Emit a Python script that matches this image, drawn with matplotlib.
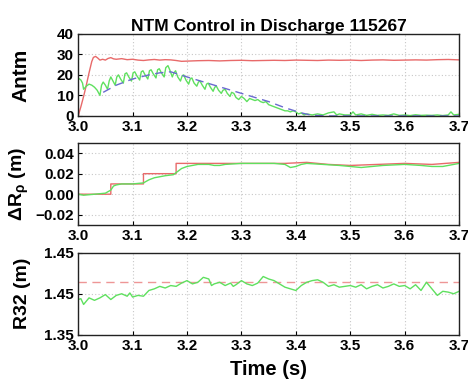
import numpy as np
import matplotlib
matplotlib.use('Agg')
import matplotlib.pyplot as plt

plt.rcParams['font.family'] = ['Liberation Sans', 'DejaVu Sans']
plt.rcParams['font.weight'] = 'bold'
plt.rcParams['axes.labelweight'] = 'bold'
plt.rcParams['axes.titleweight'] = 'bold'
plt.rcParams['mathtext.default'] = 'regular'

# --- panel 1 : Antm ---
t_red1 = [3.000, 3.005, 3.010, 3.015, 3.020, 3.025, 3.028, 3.032, 3.036, 3.040, 3.045, 3.050,
          3.055, 3.060, 3.065, 3.070, 3.080, 3.090, 3.100, 3.110, 3.120, 3.130, 3.140, 3.150,
          3.160, 3.170, 3.180, 3.190, 3.200, 3.220, 3.240, 3.260, 3.280, 3.300, 3.320, 3.340,
          3.360, 3.380, 3.400, 3.420, 3.440, 3.460, 3.480, 3.500, 3.520, 3.540, 3.560, 3.580,
          3.600, 3.620, 3.640, 3.660, 3.680, 3.700]
red1 = [0.0, 4.5, 9.5, 15.0, 21.0, 26.5, 28.5, 29.0, 28.2, 27.2, 27.6, 27.2,
        28.0, 28.4, 27.8, 27.6, 27.9, 27.4, 27.6, 27.2, 27.0, 27.3, 27.5, 27.2,
        27.4, 27.3, 27.0, 26.6, 26.7, 26.9, 27.0, 26.8, 27.0, 27.1, 26.9, 27.0,
        27.1, 27.0, 27.2, 27.1, 27.0, 27.2, 27.1, 27.2, 27.0, 27.2, 27.3, 27.1,
        27.2, 27.3, 27.2, 27.4, 27.5, 27.3]

t_grn1 = [3.000, 3.005, 3.008, 3.010, 3.015, 3.020, 3.025, 3.030, 3.035, 3.040, 3.043, 3.046,
          3.050, 3.054, 3.057, 3.060, 3.064, 3.068, 3.071, 3.074, 3.078, 3.083, 3.086, 3.089,
          3.093, 3.098, 3.101, 3.104, 3.108, 3.113, 3.116, 3.119, 3.123, 3.128, 3.131, 3.134,
          3.138, 3.143, 3.146, 3.149, 3.153, 3.158, 3.161, 3.165, 3.169, 3.173, 3.176, 3.179,
          3.183, 3.188, 3.191, 3.194, 3.198, 3.203, 3.206, 3.209, 3.213, 3.218, 3.221, 3.224,
          3.228, 3.233, 3.236, 3.239, 3.243, 3.248, 3.251, 3.254, 3.258, 3.263, 3.266, 3.270,
          3.274, 3.279, 3.282, 3.286, 3.290, 3.295, 3.300, 3.305, 3.310, 3.315, 3.320, 3.325,
          3.330, 3.335, 3.340, 3.345, 3.350, 3.355, 3.360, 3.365, 3.370, 3.375, 3.380, 3.385,
          3.390, 3.395, 3.400, 3.405, 3.410, 3.415, 3.420, 3.430, 3.440, 3.450, 3.460, 3.470,
          3.475, 3.480, 3.490, 3.500, 3.505, 3.510, 3.520, 3.530, 3.540, 3.550, 3.560, 3.570,
          3.580, 3.590, 3.600, 3.610, 3.620, 3.630, 3.640, 3.650, 3.660, 3.670, 3.680, 3.685,
          3.690, 3.700]
grn1 = [18.5, 17.5, 16.0, 13.0, 14.5, 15.5, 15.0, 14.0, 12.5, 10.0, 15.0, 16.5,
        15.0, 13.0, 17.0, 19.0, 17.0, 15.0, 19.0, 20.0, 18.0, 16.0, 20.5, 21.0,
        19.0, 17.0, 21.0, 21.5, 19.5, 17.5, 21.5, 22.0, 20.0, 18.0, 22.0, 22.5,
        20.5, 18.5, 22.5, 23.0, 21.0, 19.0, 23.5, 24.5, 22.0, 19.0, 21.0, 22.0,
        19.0, 17.0, 19.5, 20.0, 17.5, 15.5, 18.0, 18.5, 16.0, 14.5, 16.5, 17.0,
        15.0, 13.0, 15.5, 16.0, 14.0, 12.0, 14.0, 14.5, 12.5, 11.0, 12.5, 13.0,
        11.0, 9.5, 11.5, 11.0, 9.0, 8.0, 9.5, 8.5, 7.0, 8.5, 8.0, 7.5,
        8.0, 7.0, 6.5, 7.0, 5.5, 5.0, 4.5, 4.0, 3.5, 3.0, 2.5, 2.5,
        2.0, 2.5, 2.0, 1.0, 1.5, 0.5, 1.0, 0.5, 1.0, 0.5, 1.5, 2.0,
        0.5, 1.0, 0.5, 0.5, 2.0, 0.5, 1.0, 0.3, 0.8, 0.3, 0.5, 0.3,
        1.0, 0.3, 0.5, 0.2, 0.6, 0.3, 0.4, 0.3, 0.5, 0.2, 0.5, 2.0,
        0.5, 0.8]

t_blu1 = [3.046, 3.070, 3.100, 3.130, 3.150, 3.170, 3.200, 3.250, 3.300, 3.350, 3.380,
          3.410, 3.430, 3.460, 3.700]
blu1 = [11.5, 15.0, 18.0, 20.0, 21.0, 21.5, 19.0, 15.0, 11.0, 7.0, 4.0,
        1.5, 0.3, 0.0, 0.0]

# --- panel 2 : delta R_rho ---
t_red2 = [3.000, 3.060, 3.060, 3.120, 3.120, 3.180, 3.180, 3.380, 3.420, 3.460, 3.500,
          3.550, 3.600, 3.650, 3.700]
red2 = [0.000, 0.000, 0.010, 0.010, 0.020, 0.020, 0.030, 0.030, 0.031, 0.029, 0.028,
        0.029, 0.030, 0.029, 0.031]

t_grn2 = [3.000, 3.010, 3.020, 3.040, 3.050, 3.060, 3.065, 3.070, 3.080, 3.100, 3.120,
          3.130, 3.140, 3.150, 3.160, 3.175, 3.180, 3.190, 3.200, 3.210, 3.220, 3.240,
          3.250, 3.260, 3.270, 3.300, 3.360, 3.380, 3.390, 3.400, 3.410, 3.420, 3.450,
          3.480, 3.500, 3.520, 3.540, 3.560, 3.600, 3.630, 3.650, 3.670, 3.680, 3.700]
grn2 = [0.000, -0.001, -0.0005, 0.0005, 0.001, 0.004, 0.008, 0.009, 0.010, 0.010, 0.011,
        0.014, 0.016, 0.017, 0.018, 0.019, 0.021, 0.025, 0.027, 0.028, 0.029, 0.029,
        0.028, 0.028, 0.029, 0.030, 0.030, 0.029, 0.026, 0.027, 0.029, 0.030, 0.029,
        0.028, 0.027, 0.026, 0.027, 0.028, 0.029, 0.028, 0.027, 0.027, 0.028, 0.030]

# --- panel 3 : R32 ---
r32_ref = 1.4145
t_grn3 = [3.000, 3.005, 3.010, 3.020, 3.030, 3.040, 3.050, 3.055, 3.060, 3.070, 3.080,
          3.090, 3.095, 3.100, 3.110, 3.120, 3.130, 3.140, 3.150, 3.160, 3.170, 3.180,
          3.190, 3.200, 3.210, 3.220, 3.230, 3.240, 3.245, 3.250, 3.260, 3.270, 3.280,
          3.285, 3.290, 3.300, 3.310, 3.320, 3.330, 3.340, 3.350, 3.360, 3.370, 3.380,
          3.390, 3.400, 3.410, 3.420, 3.430, 3.440, 3.450, 3.460, 3.470, 3.480, 3.490,
          3.500, 3.510, 3.520, 3.530, 3.540, 3.550, 3.560, 3.570, 3.580, 3.590, 3.600,
          3.610, 3.620, 3.630, 3.640, 3.650, 3.660, 3.670, 3.680, 3.690, 3.700]
grn3 = [1.393, 1.394, 1.387, 1.395, 1.392, 1.395, 1.399, 1.396, 1.393, 1.398, 1.400,
        1.397, 1.401, 1.396, 1.398, 1.397, 1.404, 1.406, 1.409, 1.407, 1.410, 1.409,
        1.413, 1.416, 1.412, 1.414, 1.420, 1.418, 1.410, 1.412, 1.414, 1.410, 1.413,
        1.409, 1.411, 1.416, 1.412, 1.410, 1.413, 1.421, 1.418, 1.416, 1.412, 1.408,
        1.406, 1.404, 1.410, 1.414, 1.416, 1.417, 1.414, 1.409, 1.411, 1.408, 1.409,
        1.410, 1.408, 1.411, 1.406, 1.409, 1.411, 1.407, 1.409, 1.412, 1.409, 1.410,
        1.406, 1.411, 1.404, 1.414, 1.406, 1.398, 1.403, 1.402, 1.400, 1.403]

xticks = [3.0, 3.1, 3.2, 3.3, 3.4, 3.5, 3.6, 3.7]
red = '#e86a6a'
green = '#5fe05f'
blue = '#6a6ad0'

fig = plt.figure(figsize=(4.68, 3.84), dpi=100)
ax1 = fig.add_axes([0.167, 0.698, 0.814, 0.214])
ax2 = fig.add_axes([0.167, 0.414, 0.814, 0.214])
ax3 = fig.add_axes([0.167, 0.128, 0.814, 0.214])

ax1.plot(t_red1, red1, color=red, lw=1.0)
ax1.plot(t_grn1, grn1, color=green, lw=1.0)
ax1.plot(t_blu1, blu1, color=blue, lw=1.0, dashes=(6, 4))
ax1.set_ylim(0, 40)
ax1.set_yticks([0, 10, 20, 30, 40])
ax1.set_ylabel('Antm', fontsize=15)
ax1.set_title('NTM Control in Discharge 115267', fontsize=12.5, pad=2)

ax2.plot(t_red2, red2, color=red, lw=1.0)
ax2.plot(t_grn2, grn2, color=green, lw=1.0)
ax2.set_ylim(-0.03, 0.05)
ax2.set_yticks([-0.02, 0.0, 0.02, 0.04])
ax2.set_yticklabels(['\u22120.02', '0.00', '0.02', '0.04'])
ax2.set_ylabel('\u0394R$_{\\rho}$ (m)', fontsize=14)

ax3.axhline(r32_ref, color=red, lw=1.0, dashes=(6, 4), alpha=0.7)
ax3.plot(t_grn3, grn3, color=green, lw=1.0)
ax3.set_ylim(1.35, 1.45)
ax3.set_yticks([1.35, 1.40, 1.45])
ax3.set_yticklabels(['1.35', '1.45', '1.45'])
ax3.set_ylabel('R32 (m)', fontsize=14)
ax3.set_xlabel('Time (s)', fontsize=14.5, labelpad=5)

for ax in (ax1, ax2, ax3):
    ax.set_xlim(3.0, 3.7)
    ax.set_xticks(xticks)
    ax.set_xticklabels(['%.1f' % v for v in xticks])
    ax.grid(True, color='#c8c8c8', linestyle=(0, (1, 2)), lw=0.8)
    ax.tick_params(direction='in', length=3, labelsize=11, width=0.8)
    ax.tick_params(axis='x', pad=3)
    ax.tick_params(axis='y', pad=3)
    ax.yaxis.set_label_coords(-0.125, 0.5)
    for s in ax.spines.values():
        s.set_linewidth(1.0)
        s.set_color('#222222')
    for lab in ax.get_xticklabels() + ax.get_yticklabels():
        lab.set_fontweight('bold')

fig.savefig('out.png', dpi=100)
